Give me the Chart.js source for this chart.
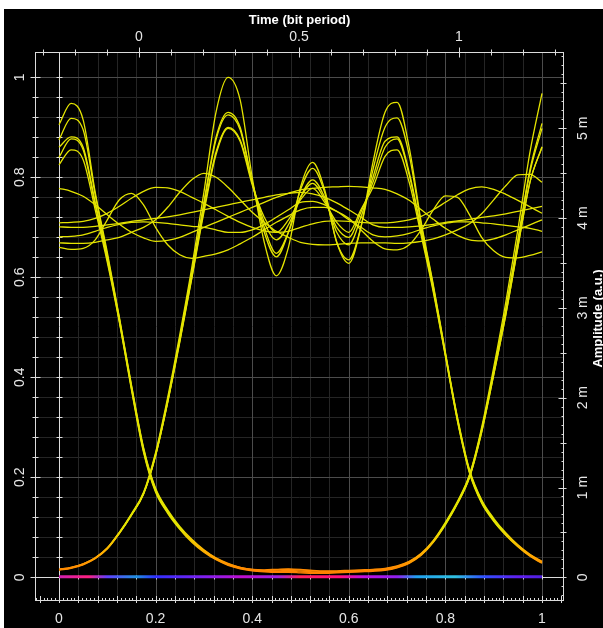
<!DOCTYPE html>
<html><head><meta charset="utf-8">
<script src="https://cdn.jsdelivr.net/npm/chart.js@4.4.1/dist/chart.umd.min.js"></script>
<style>html,body{margin:0;padding:0;background:#fff;overflow:hidden}canvas{display:block}</style>
</head><body>
<canvas id="c" width="603" height="628"></canvas>
<script>
// ---- data ----
const timeGrid = [0,0.025,0.05,0.075,0.1,0.125,0.15,0.175,0.2,0.225,0.25,0.275,0.3,0.325,0.35,0.375,0.4,0.425,0.45,0.475,0.5,0.525,0.55,0.575,0.6,0.625,0.65,0.675,0.7,0.725,0.75,0.775,0.8,0.825,0.85,0.875,0.9,0.925,0.95,0.975,1];

// isolated "1" bits: rise, ringing, fall
const ring1 = [0.015,0.019,0.026,0.038,0.058,0.09,0.127,0.17,0.25,0.36,0.485,0.62,0.77,0.93,1.0,0.955,0.8,0.67,0.603,0.66,0.78,0.83,0.775,0.67,0.628,0.7,0.83,0.93,0.95,0.86,0.71,0.585,0.45,0.32,0.215,0.155,0.118,0.089,0.065,0.046,0.032];
const ring2 = [0.016,0.02,0.027,0.039,0.059,0.09,0.126,0.168,0.247,0.355,0.478,0.61,0.75,0.88,0.93,0.9,0.79,0.69,0.641,0.69,0.775,0.818,0.77,0.67,0.635,0.7,0.815,0.9,0.919,0.845,0.705,0.582,0.448,0.318,0.213,0.153,0.116,0.087,0.064,0.045,0.031];
const ring3 = [0.014,0.018,0.025,0.037,0.057,0.088,0.125,0.167,0.245,0.352,0.475,0.605,0.745,0.875,0.925,0.895,0.79,0.7,0.648,0.69,0.76,0.795,0.76,0.69,0.665,0.72,0.8,0.872,0.881,0.81,0.695,0.578,0.446,0.316,0.211,0.151,0.114,0.086,0.063,0.044,0.03];
const ring4 = [0.015,0.019,0.026,0.038,0.057,0.088,0.124,0.166,0.243,0.35,0.472,0.6,0.735,0.85,0.9,0.875,0.79,0.71,0.675,0.705,0.76,0.788,0.755,0.7,0.68,0.73,0.79,0.86,0.877,0.805,0.69,0.574,0.444,0.314,0.21,0.15,0.113,0.085,0.062,0.043,0.029];
const ring5 = [0.016,0.02,0.027,0.039,0.058,0.089,0.125,0.167,0.244,0.35,0.47,0.598,0.73,0.845,0.898,0.872,0.785,0.72,0.69,0.715,0.755,0.778,0.75,0.71,0.69,0.735,0.78,0.842,0.855,0.79,0.683,0.57,0.442,0.312,0.208,0.148,0.112,0.084,0.061,0.042,0.028];

// "1 -> 0 -> 1" traces: fall on the left, zero level, rise on the right
const fall1 = [0.905,0.948,0.915,0.77,0.65,0.52,0.385,0.26,0.178,0.135,0.102,0.076,0.055,0.039,0.028,0.02,0.016,0.014,0.015,0.016,0.015,0.013,0.012,0.012,0.013,0.014,0.015,0.017,0.022,0.031,0.047,0.073,0.108,0.15,0.205,0.3,0.42,0.55,0.695,0.85,0.968];
const fall2 = [0.875,0.918,0.895,0.765,0.645,0.518,0.383,0.258,0.176,0.133,0.1,0.074,0.054,0.038,0.027,0.02,0.016,0.015,0.016,0.017,0.016,0.014,0.013,0.013,0.014,0.015,0.016,0.018,0.023,0.032,0.048,0.074,0.11,0.152,0.205,0.295,0.41,0.535,0.675,0.815,0.908];
const fall3 = [0.86,0.881,0.86,0.75,0.64,0.515,0.38,0.255,0.174,0.131,0.099,0.073,0.053,0.037,0.026,0.019,0.015,0.013,0.013,0.014,0.013,0.011,0.01,0.011,0.012,0.013,0.014,0.016,0.021,0.03,0.046,0.072,0.107,0.149,0.202,0.295,0.41,0.535,0.67,0.81,0.898];
const fall4 = [0.84,0.877,0.855,0.745,0.635,0.512,0.378,0.253,0.172,0.13,0.098,0.072,0.052,0.036,0.025,0.018,0.014,0.012,0.012,0.012,0.011,0.01,0.01,0.01,0.011,0.012,0.013,0.015,0.02,0.029,0.045,0.071,0.106,0.148,0.2,0.29,0.405,0.525,0.66,0.79,0.861];
const fall5 = [0.825,0.855,0.835,0.735,0.63,0.51,0.375,0.25,0.17,0.128,0.096,0.07,0.05,0.035,0.024,0.017,0.013,0.011,0.01,0.01,0.009,0.008,0.008,0.009,0.01,0.011,0.012,0.014,0.019,0.028,0.044,0.07,0.105,0.147,0.2,0.29,0.405,0.525,0.66,0.79,0.86];

// long runs of "1": wandering around the 0.7 level
const high1 = [0.778,0.772,0.762,0.745,0.725,0.706,0.69,0.679,0.672,0.674,0.68,0.69,0.70,0.71,0.72,0.73,0.74,0.75,0.76,0.768,0.775,0.778,0.78,0.781,0.782,0.781,0.779,0.776,0.767,0.754,0.735,0.716,0.698,0.684,0.675,0.673,0.677,0.685,0.695,0.705,0.715];
const high2 = [0.669,0.668,0.668,0.67,0.675,0.68,0.69,0.70,0.715,0.74,0.77,0.795,0.808,0.80,0.78,0.755,0.73,0.71,0.692,0.68,0.67,0.666,0.665,0.666,0.668,0.669,0.669,0.669,0.668,0.669,0.672,0.677,0.685,0.695,0.707,0.727,0.755,0.783,0.805,0.806,0.79];
const high3 = [0.66,0.656,0.658,0.675,0.715,0.755,0.768,0.745,0.70,0.665,0.645,0.638,0.642,0.647,0.655,0.667,0.68,0.695,0.71,0.723,0.735,0.74,0.74,0.732,0.718,0.695,0.672,0.657,0.655,0.665,0.695,0.735,0.763,0.76,0.725,0.68,0.653,0.64,0.639,0.644,0.651];
const high4 = [0.709,0.71,0.712,0.718,0.728,0.742,0.758,0.772,0.78,0.779,0.772,0.76,0.748,0.735,0.722,0.71,0.70,0.693,0.69,0.692,0.70,0.707,0.712,0.713,0.712,0.71,0.709,0.709,0.711,0.715,0.722,0.735,0.75,0.765,0.777,0.781,0.776,0.766,0.754,0.741,0.728];
const high5 = [0.701,0.70,0.70,0.702,0.705,0.708,0.712,0.715,0.718,0.721,0.725,0.73,0.735,0.74,0.745,0.75,0.755,0.76,0.765,0.768,0.77,0.767,0.76,0.749,0.735,0.72,0.705,0.70,0.70,0.701,0.703,0.706,0.71,0.713,0.716,0.72,0.723,0.727,0.732,0.737,0.742];
const high6 = [0.681,0.682,0.685,0.692,0.70,0.706,0.71,0.711,0.71,0.708,0.705,0.702,0.70,0.695,0.69,0.69,0.695,0.706,0.72,0.735,0.75,0.752,0.745,0.732,0.715,0.70,0.685,0.681,0.683,0.688,0.696,0.703,0.708,0.711,0.711,0.709,0.707,0.704,0.701,0.698,0.692];

// zero level (dense) trace
const zeroX = [0, 1];
const zeroY = [0.001, 0.001];

// axis ticks and labels
const bottomTicks = [0,0.2,0.4,0.6,0.8,1];
const bottomLabels = ['0','0.2','0.4','0.6','0.8','1'];
const leftTicks = [0,0.2,0.4,0.6,0.8,1];
const leftLabels = ['0','0.2','0.4','0.6','0.8','1'];
const topTicks = [0,0.5,1];
const topLabels = ['0','0.5','1'];
const rightTicks = [0,1,2,3,4,5];
const rightLabels = ['0','1 m','2 m','3 m','4 m','5 m'];

// ---- chart ----
const FONT = 'Liberation Sans, Arial, sans-serif';
const YELLOW = 'rgb(228,228,0)';
function pts(ys){ return timeGrid.map((x,i)=>({x:x, y:ys[i]})); }
function traceColor(ctx){
  const ch = ctx.chart, s = ch.scales.y;
  if (!ch.chartArea || !s) return YELLOW;
  if (!ch.$tg){
    const g = ch.ctx.createLinearGradient(0, s.getPixelForValue(0.1), 0, s.getPixelForValue(0));
    g.addColorStop(0, YELLOW); g.addColorStop(0.5, 'rgb(255,175,0)'); g.addColorStop(1, 'rgb(255,120,0)');
    ch.$tg = g;
  }
  return ch.$tg;
}
function zeroColor(ctx){
  const ch = ctx.chart, s = ch.scales.x;
  if (!ch.chartArea || !s) return '#a020e0';
  if (!ch.$zg){
    const g = ch.ctx.createLinearGradient(s.getPixelForValue(0), 0, s.getPixelForValue(1), 0);
    const st = [[0,'#d020b0'],[0.06,'#ff2080'],[0.1,'#6040ff'],[0.16,'#2090e0'],[0.2,'#3030ff'],[0.3,'#8020f0'],[0.38,'#c010d0'],[0.45,'#a020e0'],[0.5,'#ff2060'],[0.58,'#ff1080'],[0.63,'#c010e0'],[0.7,'#9020f0'],[0.74,'#20a0f0'],[0.82,'#30c0e0'],[0.88,'#3050ff'],[0.95,'#6020f0'],[1,'#5020e0']];
    st.forEach(s2=>g.addColorStop(s2[0], s2[1]));
    ch.$zg = g;
  }
  return ch.$zg;
}
function trace(ys){ return {data: pts(ys), borderColor: traceColor, borderWidth: 1.3, pointRadius: 0, cubicInterpolationMode: 'monotone', fill: false}; }

const datasets = [
  {data: zeroX.map((x,i)=>({x:x,y:zeroY[i]})), borderColor: zeroColor, borderWidth: 3, pointRadius: 0},
  trace(fall1), trace(fall2), trace(fall3), trace(fall4), trace(fall5),
  trace(ring1), trace(ring2), trace(ring3), trace(ring4), trace(ring5),
  trace(high1), trace(high2), trace(high3), trace(high4), trace(high5), trace(high6)
];

const framePlugin = {
  id: 'frame',
  beforeDraw(chart){
    const c = chart.ctx; c.save(); c.fillStyle = '#000'; c.fillRect(4, 9, chart.width - 4, chart.height - 9); c.restore();
  },
  beforeDatasetsDraw(chart){
    const c = chart.ctx, a = chart.chartArea, sx = chart.scales.x, sy = chart.scales.y, st = chart.scales.xTop, sr = chart.scales.y2;
    const px = v => Math.round(sx.getPixelForValue(v)) + 0.5;
    const py = v => Math.round(sy.getPixelForValue(v)) + 0.5;
    c.save(); c.lineWidth = 1;
    const line = (x1,y1,x2,y2,col) => { c.strokeStyle = col; c.beginPath(); c.moveTo(x1,y1); c.lineTo(x2,y2); c.stroke(); };
    // grid
    for (let pass = 0; pass < 2; pass++){
      for (let i = 0; i <= 25; i++){
        const major = i % 5 === 0; if ((pass === 1) !== major) continue;
        const col = major ? '#4c4c4c' : '#252525';
        const v = i * 0.04;
        line(px(v), a.top, px(v), a.bottom, col);
        line(a.left, py(v), a.right, py(v), col);
      }
    }
    const W = '#dcdcdc';
    // axis lines at data zero
    line(px(0), a.top, px(0), a.bottom, W);
    line(a.left, py(0), a.right, py(0), W);
    // frame
    c.strokeStyle = W; c.strokeRect(a.left + 0.5, a.top + 0.5, a.right - a.left - 1, a.bottom - a.top - 1);
    // ticks left frame & inner line, y=0 line
    for (let i = 0; i <= 25; i++){
      const v = i * 0.04, L = i % 5 === 0 ? 5 : 3;
      line(a.left + 0.5 - L, py(v), a.left + 0.5 + L, py(v), W);
      line(px(0) - 3, py(v), px(0) + 3, py(v), W);
      line(px(v), py(0) - 2, px(v), py(0) + 2, W);
    }
    // bottom frame ruler
    for (let i = -6; i <= 131; i++){
      const v = i * 0.008, x = px(v);
      if (x <= a.left + 1 || x >= a.right - 1) continue;
      if (i % 5 === 0) line(x, a.bottom - 5, x, a.bottom + 2, W);
      else line(x, a.bottom - 3, x, a.bottom - 0.5, W);
    }
    // right frame ruler (right axis)
    for (let i = -2; i <= 58; i++){
      const v = i * 0.1, y = Math.round(sr.getPixelForValue(v)) + 0.5;
      if (y <= a.top + 1 || y >= a.bottom - 1) continue;
      const L = i % 10 === 0 ? 5 : (i % 5 === 0 ? 3 : 2);
      line(a.right - 0.5 - L, y, a.right - 0.5 + (i % 5 === 0 ? 3 : 0), y, W);
    }
    // top frame ticks (bit period)
    for (let i = -3; i <= 13; i++){
      const v = i * 0.1, x = Math.round(st.getPixelForValue(v)) + 0.5;
      if (x <= a.left + 1 || x >= a.right - 1) continue;
      const L = i % 5 === 0 ? 5 : 3;
      line(x, a.top + 0.5 - L, x, a.top + 0.5 + L, W);
    }
    c.restore();
  },
  afterDraw(chart){
    const c = chart.ctx, sr = chart.scales.y2;
    c.save();
    c.translate(598, (sr.top + sr.bottom) / 2 - 8);
    c.rotate(-Math.PI / 2);
    c.font = 'bold 13px ' + FONT; c.fillStyle = '#ffffff'; c.textAlign = 'center'; c.textBaseline = 'middle';
    c.fillText('Amplitude (a.u.)', 0, 0);
    c.restore();
  }
};

const tickFont = {family: FONT, size: 14};
const setTicks = arr => s => { s.ticks = arr.map(v => ({value: v})); };
const noGrid = {display: false, drawTicks: false};

new Chart(document.getElementById('c'), {
  type: 'line',
  data: {datasets: datasets},
  plugins: [framePlugin],
  options: {
    responsive: false, animation: false, devicePixelRatio: 1,
    layout: {padding: 0},
    plugins: {legend: {display: false}, tooltip: {enabled: false}},
    scales: {
      x: {type: 'linear', position: 'bottom', min: -24/483, max: -24/483 + 529/483,
        afterBuildTicks: setTicks(bottomTicks), afterFit: s => { s.height = 27; },
        grid: noGrid, border: {display: false},
        ticks: {color: '#e6e6e6', font: tickFont, padding: 10, maxRotation: 0, autoSkip: false, callback: (v, i) => bottomLabels[i]}},
      xTop: {type: 'linear', position: 'top', min: -104/320, max: -104/320 + 529/320,
        afterBuildTicks: setTicks(topTicks), afterFit: s => { s.height = 52; },
        grid: noGrid, border: {display: false},
        title: {display: true, text: 'Time (bit period)', color: '#ffffff', font: {family: FONT, size: 13, weight: 'bold'}, padding: {top: 13, bottom: 0}},
        ticks: {color: '#e6e6e6', font: tickFont, padding: 6, maxRotation: 0, autoSkip: false, callback: (v, i) => topLabels[i]}},
      y: {type: 'linear', position: 'left', min: -23.7/500, max: -23.7/500 + 549/500,
        afterBuildTicks: setTicks(leftTicks), afterFit: s => { s.width = 35; },
        grid: noGrid, border: {display: false},
        ticks: {color: '#e6e6e6', font: tickFont, padding: 5, minRotation: 90, maxRotation: 90, crossAlign: 'center', autoSkip: false, callback: (v, i) => leftLabels[i]}},
      y2: {type: 'linear', position: 'right', min: -23.7/89.8, max: -23.7/89.8 + 549/89.8,
        afterBuildTicks: setTicks(rightTicks), afterFit: s => { s.width = 39; },
        grid: noGrid, border: {display: false},
        ticks: {color: '#e6e6e6', font: tickFont, padding: 7, minRotation: 90, maxRotation: 90, crossAlign: 'center', autoSkip: false, callback: (v, i) => rightLabels[i]}}
    }
  }
});
</script>
</body></html>
